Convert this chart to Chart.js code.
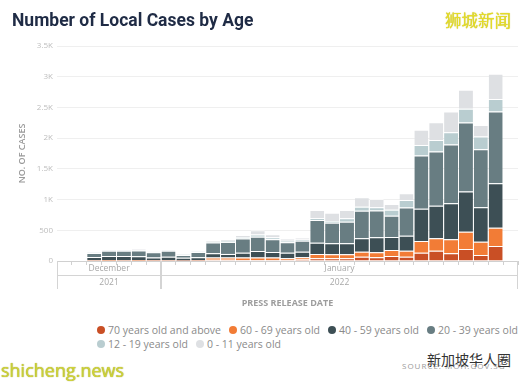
<!DOCTYPE html>
<html>
<head>
<meta charset="utf-8">
<script src="https://cdn.jsdelivr.net/npm/chart.js@4.4.1/dist/chart.umd.min.js"></script>
<style>
  body { margin: 0; background: #fff; }
  #lienzo { position: relative; width: 525px; height: 385px; overflow: hidden; font-family: "Open Sans", sans-serif; }
  #caja { position: absolute; left: 0; top: 0; width: 525px; height: 315px; }
  #leyenda { position: absolute; left: 97px; top: 323px; width: 428px; display: flex; flex-wrap: wrap; column-gap: 8px; row-gap: 1px; font-size: 10.5px; color: #8a8a8a; }
  .item { display: flex; align-items: center; white-space: nowrap; height: 13.5px; }
  .punto { width: 8px; height: 8px; border-radius: 50%; margin-right: 3px; }
  .marca { position: absolute; white-space: nowrap; }
</style>
</head>
<body>
<div id="lienzo">
  <div id="caja"><canvas id="grafica"></canvas></div>
  <div id="leyenda"></div>
  <div class="marca" style="left:445px; top:8px; font-family:'Noto Sans CJK SC'; font-size:16.5px; color:#e4dc2a; text-shadow:0 0 1px #b9b000;">狮城新闻</div>
  <div class="marca" style="left:1px; top:358px; font-family:'Open Sans'; font-size:18px; color:#cfd23a; text-shadow:0 0 1px #8c8f00;">shicheng.news</div>
  <div class="marca" style="left:402px; top:360px; font-family:'Open Sans'; font-size:8px; letter-spacing:1px; color:#9a9a9a;">SOURCE: MOH.GOV.SG</div>
  <div class="marca" style="left:427px; top:349px; font-family:'Noto Sans CJK SC'; font-size:14px; color:#333;">新加坡华人圈</div>
</div>
<script>
const $grafica = document.querySelector("#grafica");

// un dato por dia de publicacion
const fechas = [
  "2021-12-25", "2021-12-26", "2021-12-27", "2021-12-28", "2021-12-29", "2021-12-30", "2021-12-31",
  "2022-01-01", "2022-01-02", "2022-01-03", "2022-01-04", "2022-01-05", "2022-01-06", "2022-01-07",
  "2022-01-08", "2022-01-09", "2022-01-10", "2022-01-11", "2022-01-12", "2022-01-13", "2022-01-14",
  "2022-01-15", "2022-01-16", "2022-01-17", "2022-01-18", "2022-01-19", "2022-01-20", "2022-01-21",
  "2022-01-22", "2022-01-23", "2022-01-24"
];
const meses = ["January", "February", "March", "April", "May", "June", "July", "August", "September", "October", "November", "December"];

const edades = ["70 years old and above", "60 - 69 years old", "40 - 59 years old", "20 - 39 years old", "12 - 19 years old", "0 - 11 years old"];
const colores = ['#C94F25', '#F27C36', '#3D4F55', '#687D82', '#B9CDD0', '#DEE0E3'];

const casos70 = [null, null, 5, 6, 5, 6, 4, 5, 3, 4, 20, 20, 18, 16, 15, 15, 25, 44, 44, 44, 70, 60, 80, 70, 135, 168, 125, 196, 98, 245, null];
const casos60 = [null, null, 8, 10, 9, 10, 8, 8, 5, 7, 35, 35, 40, 42, 40, 30, 35, 70, 65, 65, 82, 82, 100, 98, 190, 202, 228, 282, 217, 298, null];
const casos40 = [null, null, 52, 65, 66, 60, 44, 55, 45, 50, 70, 60, 75, 105, 90, 90, 90, 184, 179, 179, 218, 245, 210, 245, 527, 531, 587, 652, 561, 724, null];
const casos20 = [null, null, 65, 85, 86, 96, 86, 98, 45, 85, 175, 195, 235, 232, 210, 170, 180, 370, 336, 352, 450, 434, 345, 456, 864, 880, 955, 1125, 945, 1167, null];
const casos12 = [null, null, 8, 9, 9, 9, 8, 9, 11, 8, 15, 15, 20, 38, 30, 25, 20, 28, 28, 55, 65, 55, 100, 125, 174, 190, 202, 223, 205, 202, null];
const casos0 = [null, null, 9, 9, 9, 9, 8, 9, 10, 9, 22, 22, 36, 67, 50, 35, 30, 135, 135, 135, 153, 135, 93, 109, 245, 288, 336, 310, 186, 413, null];
const series = [casos70, casos60, casos40, casos20, casos12, casos0];

const fuente = '"Open Sans", "DejaVu Sans", sans-serif';

// dibuja las filas de mes y anio debajo del eje x
const filasFecha = {
    id: 'filasFecha',
    afterDraw(chart) {
        const x = chart.scales.x;
        const ctx = chart.ctx;
        const paso = x.getPixelForValue(1) - x.getPixelForValue(0);
        const arriba = x.top;
        const medio = arriba + 14;
        const abajo = arriba + 28;
        const agrupar = (corte) => {
            const grupos = [];
            fechas.forEach((f, i) => {
                const clave = f.slice(0, corte);
                const ultimo = grupos[grupos.length - 1];
                if (ultimo && ultimo.clave === clave) ultimo.fin = i;
                else grupos.push({ clave: clave, ini: i, fin: i });
            });
            return grupos;
        };
        ctx.save();
        ctx.strokeStyle = '#d4d4d4';
        ctx.lineWidth = 1;
        ctx.beginPath();
        ctx.moveTo(x.left, Math.round(medio) + 0.5);
        ctx.lineTo(x.right, Math.round(medio) + 0.5);
        ctx.fillStyle = '#a8a8a8';
        ctx.font = '8.5px ' + fuente;
        ctx.textAlign = 'center';
        ctx.textBaseline = 'middle';
        agrupar(7).forEach(g => {
            const izq = x.getPixelForValue(g.ini) - paso / 2;
            const der = x.getPixelForValue(g.fin) + paso / 2;
            ctx.moveTo(Math.round(izq) + 0.5, arriba);
            ctx.lineTo(Math.round(izq) + 0.5, abajo);
            ctx.moveTo(Math.round(der) - 0.5, arriba);
            ctx.lineTo(Math.round(der) - 0.5, abajo);
            ctx.fillText(meses[parseInt(g.clave.slice(5, 7)) - 1], (izq + der) / 2, arriba + 7.5);
        });
        agrupar(4).forEach(g => {
            const izq = x.getPixelForValue(g.ini) - paso / 2;
            const der = x.getPixelForValue(g.fin) + paso / 2;
            ctx.fillText(g.clave, (izq + der) / 2, medio + 7.5);
        });
        ctx.stroke();
        ctx.restore();
    }
};

const grafica = new Chart($grafica, {
    type: 'bar',
    data: {
        labels: fechas,
        datasets: series.map((datos, i) => ({
            label: edades[i],
            data: datos,
            backgroundColor: colores[i],
            borderColor: 'rgba(255,255,255,0.65)',
            borderWidth: { top: 1, left: 0, right: 0, bottom: 0 },
            categoryPercentage: 1,
            barPercentage: 0.94,
        }))
    },
    options: {
        responsive: true,
        maintainAspectRatio: false,
        animation: false,
        layout: { padding: { top: 2, left: 12, right: 7, bottom: 0 } },
        plugins: {
            legend: { display: false },
            tooltip: { enabled: false },
            title: {
                display: true,
                text: 'Number of Local Cases by Age',
                align: 'start',
                color: '#1F2B45',
                font: { family: 'Roboto', size: 17.5, weight: 'bold' },
                padding: { top: 9, bottom: 14 }
            }
        },
        scales: {
            x: {
                stacked: true,
                offset: true,
                grid: { display: true, drawOnChartArea: false, drawTicks: true, tickLength: 4, color: '#d0d0d0', offset: true },
                border: { display: true, color: '#d0d0d0' },
                ticks: { display: false, autoSkip: false },
                title: {
                    display: true,
                    text: 'PRESS RELEASE DATE',
                    color: '#9d9d9d',
                    font: { family: fuente, size: 9, weight: 'bold' },
                    padding: { top: 0, bottom: 6 }
                },
                afterFit(s) { s.height = 54; }
            },
            y: {
                stacked: true,
                min: 0,
                max: 3500,
                grid: { color: '#efefef', drawTicks: false },
                border: { display: false },
                ticks: {
                    stepSize: 500,
                    padding: 4,
                    color: '#bdbdbd',
                    font: { family: fuente, size: 8 },
                    callback: v => v < 1000 ? v : (v / 1000) + 'K'
                },
                title: {
                    display: true,
                    text: 'NO. OF CASES',
                    color: '#9a9a9a',
                    font: { family: fuente, size: 9, weight: '600' },
                    padding: { top: 5, bottom: 0 }
                },
                afterFit(s) { s.width = 45; }
            }
        }
    },
    plugins: [filasFecha]
});

// leyenda en html a partir de los datasets
const $leyenda = document.querySelector("#leyenda");
grafica.data.datasets.forEach(ds => {
    const item = document.createElement('div');
    item.className = 'item';
    const punto = document.createElement('span');
    punto.className = 'punto';
    punto.style.background = ds.backgroundColor;
    item.appendChild(punto);
    item.appendChild(document.createTextNode(ds.label));
    $leyenda.appendChild(item);
});
</script>
</body>
</html>
